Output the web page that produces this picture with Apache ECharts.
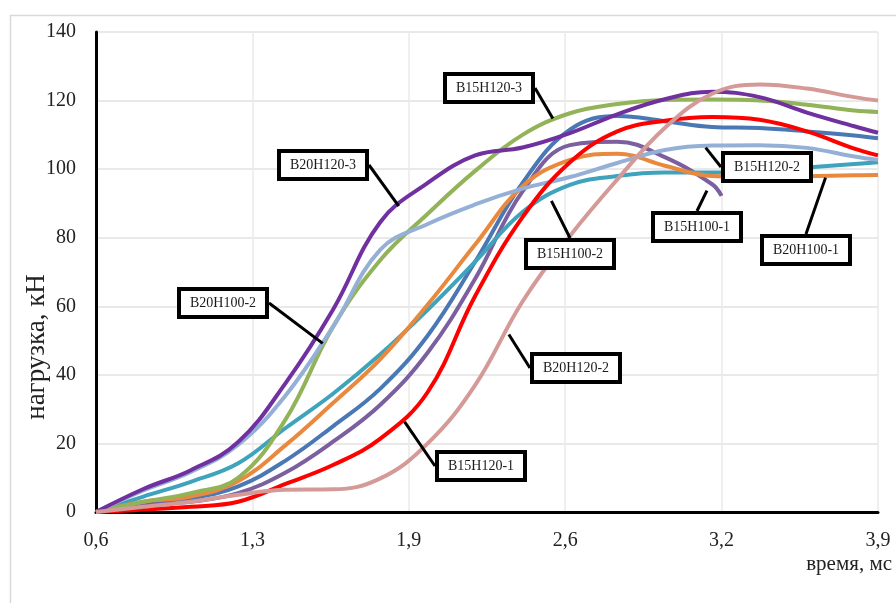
<!DOCTYPE html>
<html>
<head>
<meta charset="utf-8">
<script src="https://cdn.jsdelivr.net/npm/echarts@6/dist/echarts.min.js"></script>
<style>
  html, body { margin: 0; padding: 0; background: #fff; }
  #chart { width: 896px; height: 603px; }
</style>
</head>
<body>
<div id="chart"></div>
<script>
// Time samples, ms
const time = [0.6, 0.8, 1.0, 1.2, 1.4, 1.6, 1.8, 2.0, 2.2, 2.4, 2.6, 2.8, 3.0, 3.2, 3.4, 3.6, 3.8, 3.9];
// B15H100-1 record stops earlier
const timeB15H100_1 = [0.6, 0.8, 1.0, 1.2, 1.4, 1.6, 1.8, 2.0, 2.2, 2.4, 2.6, 2.8, 3.0, 3.2, 3.24];

// Load, kN
const loadDarkBlue   = [0, 2.6, 4, 7.5, 15, 25, 36, 51.5, 73, 96, 111.5, 115.5, 114, 112.3, 112, 111, 109.8, 109];
const loadB15H100_1  = [0, 2, 3, 5.5, 11.5, 20.5, 31.3, 46.5, 68, 93.5, 107, 108, 103.5, 95.6, 92.2];
const loadB15H100_2  = [0, 4.5, 8.8, 14.2, 24.5, 34.5, 46, 59, 73, 87.5, 95.4, 98, 99, 99, 99.5, 100.5, 101.5, 102];
const loadB20H100_1  = [0, 3, 4.5, 9, 19.5, 31.8, 44.6, 60.5, 78, 95, 102.7, 104.5, 101, 98, 97.7, 97.9, 98.2, 98.3];
const loadB15H120_3  = [0, 3, 5.5, 10, 27, 54, 73.5, 87, 99.5, 110, 116.3, 119, 120.2, 120.3, 120, 118.8, 117.1, 116.7];
const loadB20H100_2  = [0, 6.3, 11.7, 19.6, 34, 54, 76.5, 84, 89.7, 94.3, 97.7, 101.8, 105.6, 106.9, 107, 106.2, 103.7, 102.7];
const loadB15H120_1  = [0, 0.7, 1.5, 3, 8.2, 13.7, 21.4, 35, 63, 86, 102, 111, 114.1, 115.2, 114.4, 111, 106, 104];
const loadB20H120_3  = [0, 6.7, 12.2, 20.4, 37.6, 59, 84.6, 96, 104, 106.3, 110.5, 116, 120.4, 122.6, 121, 116.5, 112.5, 110.6];
const loadB20H120_2  = [0, 1.5, 3, 5, 6.5, 6.6, 9.8, 20, 37, 61.4, 80.5, 97, 112, 122, 124.7, 123.5, 121, 120];

// Callout texts and the curve points they point at
const calloutText = ['B15H120-3', 'B20H120-3', 'B20H100-2', 'B15H100-2', 'B15H120-2', 'B15H100-1', 'B20H100-1', 'B20H120-2', 'B15H120-1'];
const calloutTime = [2.53, 1.88, 1.56, 2.52, 3.17, 3.18, 3.68, 2.34, 1.90];
const calloutLoad = [114.5, 89, 49, 91, 106.5, 94, 97.8, 52, 26.5];

// Y axis ticks
const yMin = 0, yMax = 140, yStep = 20;
// X axis ticks
const xMin = 0.6, xMax = 3.9, xStep = 0.66;

// ---- styling / layout ----
const lineDefs = [
  { name: 'B15H100-s', values: loadDarkBlue,  t: time,           color: '#4A78B4' },
  { name: 'B15H100-1', values: loadB15H100_1, t: timeB15H100_1, color: '#7B5F9E' },
  { name: 'B15H100-2', values: loadB15H100_2, t: time,           color: '#3FA3BC' },
  { name: 'B20H100-1', values: loadB20H100_1, t: time,           color: '#E8893D' },
  { name: 'B15H120-3', values: loadB15H120_3, t: time,           color: '#93B358' },
  { name: 'B20H100-2', values: loadB20H100_2, t: time,           color: '#95B0D6' },
  { name: 'B15H120-1', values: loadB15H120_1, t: time,           color: '#FF0000' },
  { name: 'B20H120-3', values: loadB20H120_3, t: time,           color: '#7030A0' },
  { name: 'B20H120-2', values: loadB20H120_2, t: time,           color: '#D49A98' }
];

// box centre offset from the pointed-at point, px
const calloutShift = [
  [-64, -31], [-76, -42], [-100, -41], [19, 54], [62, 20],
  [-10, 37], [-20, 73], [68, 34], [77, 45]
];

const serif = '"Liberation Serif", "Times New Roman", serif';

const series = lineDefs.map(d => ({
  name: d.name,
  type: 'line',
  data: d.t.map((t, i) => [t, d.values[i]]),
  smooth: 0.4,
  showSymbol: false,
  symbol: 'none',
  lineStyle: { color: d.color, width: 4 },
  itemStyle: { color: d.color },
  z: 3
}));

// Framed callouts with leader lines to their curves
series.push({
  name: 'callouts',
  type: 'scatter',
  symbolSize: 2,
  itemStyle: { color: 'rgba(0,0,0,0)', opacity: 1 },
  data: calloutTime.map((t, i) => ({ value: [t, calloutLoad[i]], name: calloutText[i] })),
  z: 10,
  label: {
    show: true,
    opacity: 1,
    position: [0, 0],
    align: 'center',
    verticalAlign: 'middle',
    formatter: p => p.name,
    fontFamily: serif,
    fontSize: 14,
    lineHeight: 15,
    width: 70,
    height: 15,
    color: '#1a1a1a',
    textBorderWidth: 0,
    backgroundColor: '#fff',
    borderColor: '#000',
    borderWidth: 4,
    borderRadius: 0,
    padding: [5, 7, 4, 7]
  },
  labelLine: {
    show: true,
    lineStyle: { color: '#000', width: 3, opacity: 1 }
  },
  // keep the boxes on whole pixels so the frames stay crisp
  labelLayout: p => ({
    x: Math.round(p.rect.x + p.rect.width / 2 + calloutShift[p.dataIndex][0]),
    y: Math.round(p.rect.y + p.rect.height / 2 + calloutShift[p.dataIndex][1]),
    align: 'center',
    verticalAlign: 'middle'
  })
});

const chart = echarts.init(document.getElementById('chart'), null, { renderer: 'canvas' });
chart.setOption({
  animation: false,
  backgroundColor: '#fff',
  grid: { left: 96, top: 32, right: 18, bottom: 91, containLabel: false },
  xAxis: {
    type: 'value',
    min: xMin, max: xMax, interval: xStep,
    axisLine: { show: true, onZero: false, lineStyle: { color: '#000', width: 3 } },
    axisTick: { show: false },
    axisLabel: {
      fontFamily: serif, fontSize: 20, color: '#222', margin: 19,
      formatter: v => v.toFixed(1).replace('.', ',')
    },
    splitLine: { show: true, lineStyle: { color: '#ebeae4', width: 1.5 } },
    name: 'время, мс',
    nameLocation: 'end',
    nameGap: 14,
    nameMoveOverlap: false,
    nameTextStyle: {
      fontFamily: serif, fontSize: 21, color: '#222',
      align: 'right', verticalAlign: 'top', padding: [42, 0, 0, 0]
    }
  },
  yAxis: {
    type: 'value',
    min: yMin, max: yMax, interval: yStep,
    axisLine: { show: true, lineStyle: { color: '#000', width: 3 } },
    axisTick: { show: false },
    axisLabel: { fontFamily: serif, fontSize: 20, color: '#222', margin: 20 },
    splitLine: { show: true, lineStyle: { color: '#e2e2e2', width: 1.5 } },
    name: 'нагрузка, кН',
    nameLocation: 'middle',
    nameGap: 46,
    nameRotate: 90,
    nameMoveOverlap: false,
    nameTextStyle: {
      fontFamily: serif, fontSize: 27, color: '#222',
      padding: [0, 150, 0, 0]
    }
  },
  graphic: [{
    type: 'rect',
    left: 8, top: 13,
    shape: { width: 1000, height: 1000 },
    style: { fill: 'none', stroke: '#d9d9d9', lineWidth: 1.5 },
    silent: true,
    z: -10
  }],
  series: series
});
</script>
</body>
</html>
